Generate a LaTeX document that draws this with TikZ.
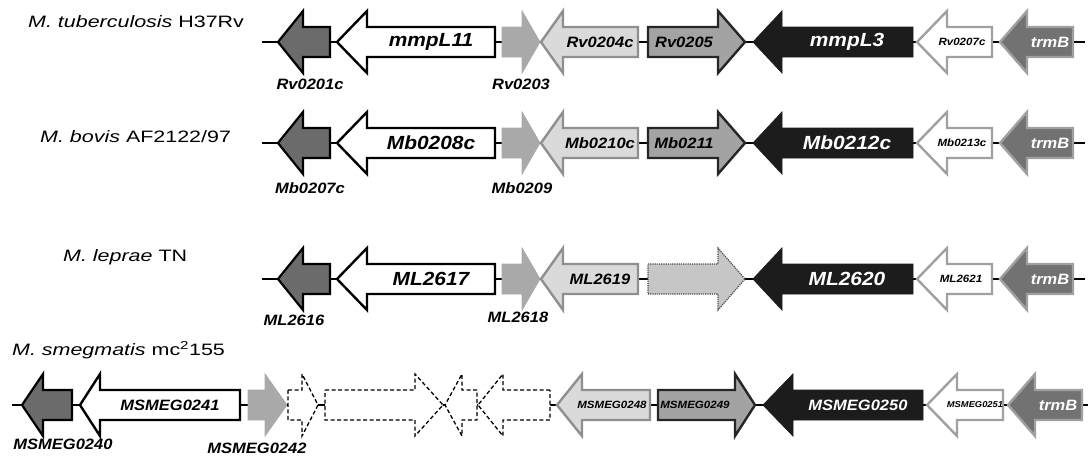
\documentclass[tikz,border=0pt]{standalone}
\usepackage{fontspec}
\usepackage{tikz}
\usetikzlibrary{arrows.meta}

\newfontfamily\genefont[FakeStretch=1.1]{Liberation Sans}
\newfontfamily\orgfont[FakeStretch=1.3]{Liberation Sans}

\definecolor{darkg}{HTML}{6B6B6B}
\definecolor{lightg}{HTML}{A9A9A9}
\definecolor{paleg}{HTML}{DADADA}
\definecolor{palerim}{HTML}{8F8F8F}
\definecolor{midg}{HTML}{A3A3A3}
\definecolor{blackg}{HTML}{1C1C1C}
\definecolor{trmg}{HTML}{727272}
\definecolor{rimg}{HTML}{A0A0A0}
\definecolor{dotg}{HTML}{C6C6C6}

% gene arrow: style, end x, head back x, tip x, axis y
\newcommand{\gene}[5]{\draw[#1] (#2,#5-15) -- (#3,#5-15) -- (#3,#5-31) -- (#4,#5) -- (#3,#5+31) -- (#3,#5+15) -- (#2,#5+15) -- cycle;}

\begin{document}
\begin{tikzpicture}[
    x=1pt, y=-1pt,
    axis/.style={line width=2.6pt},
    darkgene/.style={fill=darkg, draw=black, line width=2.2pt},
    whitegene/.style={fill=white, draw=black, line width=2.4pt},
    lightgene/.style={fill=lightg, draw=lightg, line width=0.8pt},
    palegene/.style={fill=paleg, draw=palerim, line width=2.4pt},
    midgene/.style={fill=midg, draw=black!85, line width=2.4pt},
    blackgene/.style={fill=blackg, draw=blackg, line width=0.8pt},
    rimgene/.style={fill=white, draw=rimg, line width=2.4pt},
    trmgene/.style={fill=trmg, draw=rimg, line width=2.4pt},
    dotgene/.style={fill=dotg, draw=black!70, densely dotted, line width=1.2pt},
    dashgene/.style={fill=white, draw=black, dash pattern=on 4pt off 2.5pt, line width=1.3pt},
    orglab/.style={anchor=west, inner sep=0pt, font=\fontsize{16.5}{18}\orgfont},
    biglab/.style={inner sep=0pt, font=\fontsize{19}{20}\genefont\bfseries\itshape},
    midlab/.style={inner sep=0pt, font=\fontsize{15}{16}\genefont\bfseries\itshape},
    smalllab/.style={inner sep=0pt, font=\fontsize{10.5}{11}\genefont\bfseries\itshape},
    tinylab/.style={inner sep=0pt, font=\fontsize{8.5}{9}\genefont\bfseries\itshape}
    ]
    \useasboundingbox (0,0) rectangle (1088,456);

    % Organisms
    \node[orglab] (tb) at (28,22) {\itshape M. tuberculosis\upshape{} H37Rv};
    \node[orglab] (bovis) at (40,137) {\itshape M. bovis\upshape{} AF2122/97};
    \node[orglab] (leprae) at (63,257) {\itshape M. leprae\upshape{} TN};
    \node[orglab] (smeg) at (12,350) {\itshape M. smegmatis\upshape{} mc\textsuperscript{2}155};

    % Chromosome lines
    \coordinate (tbs) at (262,42);   \coordinate (tbe) at (1085,42);
    \coordinate (bos) at (262,143);  \coordinate (boe) at (1085,143);
    \coordinate (les) at (262,279);  \coordinate (lee) at (1085,279);
    \coordinate (sms) at (12,405);   \coordinate (sme) at (1088,405);
    \draw[axis] (tbs) -- (tbe);
    \draw[axis] (bos) -- (boe);
    \draw[axis] (les) -- (lee);
    \draw[axis] (sms) -- (sme);

    % M. tuberculosis
    \gene{darkgene}{330}{303}{278}{42}
    \gene{whitegene}{495}{367}{337}{42}
    \gene{lightgene}{502}{522}{540}{42}
    \gene{palegene}{638}{563}{541}{42}
    \gene{midgene}{648}{718}{745}{42}
    \gene{blackgene}{913}{782}{753}{42}
    \gene{rimgene}{992}{947}{917}{42}
    \gene{trmgene}{1073}{1027}{1000}{42}
    \node[midlab] (Rv0201c) at (310,84) {Rv0201c};
    \node[biglab] (mmpL11) at (431,42) {mmpL11};
    \node[midlab] (Rv0203) at (521,84) {Rv0203};
    \node[midlab] (Rv0204c) at (600,42) {Rv0204c};
    \node[midlab] (Rv0205) at (684,42) {Rv0205};
    \node[biglab, text=white] (mmpL3) at (847,42) {mmpL3};
    \node[smalllab] (Rv0207c) at (962,42) {Rv0207c};
    \node[midlab, text=white] (trmBtb) at (1050,42) {trmB};

    % M. bovis
    \gene{darkgene}{330}{303}{278}{143}
    \gene{whitegene}{495}{367}{337}{143}
    \gene{lightgene}{502}{522}{540}{143}
    \gene{palegene}{638}{563}{541}{143}
    \gene{midgene}{648}{718}{745}{143}
    \gene{blackgene}{913}{782}{753}{143}
    \gene{rimgene}{992}{947}{917}{143}
    \gene{trmgene}{1073}{1027}{1000}{143}
    \node[midlab] (Mb0207c) at (310,188) {Mb0207c};
    \node[biglab] (Mb0208c) at (431,143) {Mb0208c};
    \node[midlab] (Mb0209) at (522,188) {Mb0209};
    \node[midlab] (Mb0210c) at (600,143) {Mb0210c};
    \node[midlab] (Mb0211) at (684,143) {Mb0211};
    \node[biglab, text=white] (Mb0212c) at (847,143) {Mb0212c};
    \node[smalllab] (Mb0213c) at (962,143) {Mb0213c};
    \node[midlab, text=white] (trmBbo) at (1050,143) {trmB};

    % M. leprae
    \gene{darkgene}{330}{303}{278}{279}
    \gene{whitegene}{495}{367}{337}{279}
    \gene{lightgene}{502}{522}{540}{279}
    \gene{palegene}{638}{563}{541}{279}
    \gene{dotgene}{648}{718}{745}{279}
    \gene{blackgene}{913}{782}{753}{279}
    \gene{rimgene}{992}{947}{917}{279}
    \gene{trmgene}{1073}{1027}{1000}{279}
    \node[midlab] (ML2616) at (294,320) {ML2616};
    \node[biglab] (ML2617) at (431,279) {ML2617};
    \node[midlab] (ML2618) at (518,317) {ML2618};
    \node[midlab] (ML2619) at (600,279) {ML2619};
    \node[biglab, text=white] (ML2620) at (847,279) {ML2620};
    \node[smalllab] (ML2621) at (961,279) {ML2621};
    \node[midlab, text=white] (trmBle) at (1050,279) {trmB};

    % M. smegmatis
    \gene{darkgene}{72}{43}{22}{405}
    \gene{whitegene}{240}{100}{80}{405}
    \gene{lightgene}{248}{265}{287}{405}
    \gene{dashgene}{288}{302}{318}{405}
    \gene{dashgene}{325}{415}{443}{405}
    \gene{dashgene}{477}{462}{445}{405}
    \gene{dashgene}{550}{503}{478}{405}
    \gene{palegene}{650}{582}{557}{405}
    \gene{midgene}{658}{735}{755}{405}
    \gene{blackgene}{923}{793}{763}{405}
    \gene{rimgene}{1003}{957}{927}{405}
    \gene{trmgene}{1082}{1035}{1008}{405}
    \node[midlab] (MSMEG0240) at (63,444) {MSMEG0240};
    \node[midlab] (MSMEG0241) at (170,405) {MSMEG0241};
    \node[midlab] (MSMEG0242) at (257,448) {MSMEG0242};
    \node[smalllab] (MSMEG0248) at (612,405) {MSMEG0248};
    \node[smalllab] (MSMEG0249) at (695,405) {MSMEG0249};
    \node[midlab, text=white] (MSMEG0250) at (858,405) {MSMEG0250};
    \node[tinylab] (MSMEG0251) at (975,405) {MSMEG0251};
    \node[midlab, text=white] (trmBsm) at (1058,405) {trmB};

\end{tikzpicture}
\end{document}
